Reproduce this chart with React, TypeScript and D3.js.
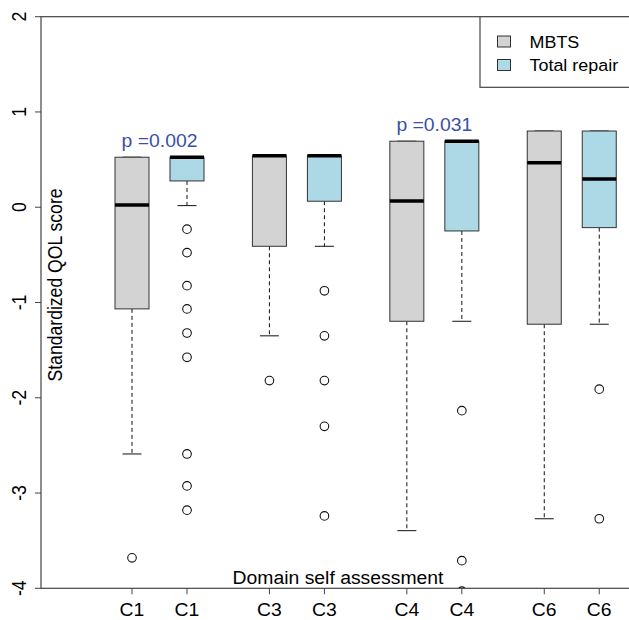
import { useEffect, useRef } from 'react';
import * as d3 from 'd3';

// domains and groups
const domains = ['C1', 'C3', 'C4', 'C6'];
const groups = ['MBTS', 'Total repair'];
const groupColors = ['#d3d3d3', '#add8e6'];

// MBTS box stats per domain
const mbtsQ3 = [0.525, 0.54, 0.693, 0.8];
const mbtsMedian = [0.024, 0.54, 0.066, 0.468];
const mbtsQ1 = [-1.067, -0.41, -1.197, -1.228];
const mbtsLow = [-2.59, -1.35, -3.395, -3.27];
const mbtsHigh = [0.525, 0.54, 0.693, 0.8];
const mbtsOutliers = [[-3.68], [-1.82], [], []];

// Total repair box stats per domain
const repairQ3 = [0.525, 0.54, 0.693, 0.8];
const repairMedian = [0.525, 0.54, 0.693, 0.297];
const repairQ1 = [0.276, 0.063, -0.249, -0.214];
const repairLow = [0.017, -0.41, -1.197, -1.228];
const repairHigh = [0.525, 0.54, 0.693, 0.8];
const repairOutliers = [
  [-0.23, -0.477, -0.823, -1.067, -1.32, -1.575, -2.59, -2.925, -3.18],
  [-0.877, -1.35, -1.82, -2.3, -3.24],
  [-2.135, -3.71, -4.03],
  [-1.91, -3.27],
];

const pLabels = ['p =0.002', '', 'p =0.031', ''];
const yTicks = [2, 1, 0, -1, -2, -3, -4];

const App = () => {
  const svgRef = useRef<SVGSVGElement>(null);

  useEffect(() => {
    const svg = d3.select(svgRef.current);
    svg.selectAll('*').remove();

    const W = 629;
    const H = 620;
    const left = 41;
    const top = 16.7;
    const bottom = 588.3;
    const right = 660;
    const sx = 1.1; // the original picture is stretched sideways
    const font = 'Liberation Sans, Arial, sans-serif';
    const axisColor = '#444';

    svg.attr('width', W).attr('height', H).style('background', '#fff');

    const y = d3.scaleLinear().domain([-4, 2]).range([bottom, top]);
    const xDomain = d3.scalePoint<string>().domain(domains).range([159.5, 571.75]);
    const xGroup = d3.scalePoint<string>().domain(groups).range([-27.5, 27.5]);

    svg
      .append('defs')
      .append('clipPath')
      .attr('id', 'plotClip')
      .append('rect')
      .attr('x', left)
      .attr('y', top)
      .attr('width', right - left)
      .attr('height', bottom - top);

    const boxes = domains.flatMap((dom, i) => [
      { dom, g: 0, q3: mbtsQ3[i], med: mbtsMedian[i], q1: mbtsQ1[i], lo: mbtsLow[i], hi: mbtsHigh[i], out: mbtsOutliers[i] },
      { dom, g: 1, q3: repairQ3[i], med: repairMedian[i], q1: repairQ1[i], lo: repairLow[i], hi: repairHigh[i], out: repairOutliers[i] },
    ]);

    const plot = svg.append('g').attr('clip-path', 'url(#plotClip)');
    const half = 17;
    const cap = 9.5;

    boxes.forEach((b) => {
      const cx = xDomain(b.dom)! + xGroup(groups[b.g])!;
      // whiskers
      plot.append('line')
        .attr('x1', cx).attr('x2', cx)
        .attr('y1', y(b.q1)).attr('y2', y(b.lo))
        .attr('stroke', '#111').attr('stroke-dasharray', '4,3');
      plot.append('line')
        .attr('x1', cx).attr('x2', cx)
        .attr('y1', y(b.q3)).attr('y2', y(b.hi))
        .attr('stroke', '#111').attr('stroke-dasharray', '4,3');
      plot.append('line')
        .attr('x1', cx - cap).attr('x2', cx + cap)
        .attr('y1', y(b.lo)).attr('y2', y(b.lo))
        .attr('stroke', '#111');
      plot.append('line')
        .attr('x1', cx - cap).attr('x2', cx + cap)
        .attr('y1', y(b.hi)).attr('y2', y(b.hi))
        .attr('stroke', '#111');
      // box
      plot.append('rect')
        .attr('x', cx - half)
        .attr('y', y(b.q3))
        .attr('width', half * 2)
        .attr('height', y(b.q1) - y(b.q3))
        .attr('fill', groupColors[b.g])
        .attr('stroke', '#333')
        .attr('stroke-width', 1);
      // median
      plot.append('line')
        .attr('x1', cx - half).attr('x2', cx + half)
        .attr('y1', y(b.med)).attr('y2', y(b.med))
        .attr('stroke', '#000').attr('stroke-width', 3.5);
      // outliers
      plot.selectAll(null)
        .data(b.out)
        .enter()
        .append('circle')
        .attr('cx', cx)
        .attr('cy', (d) => y(d))
        .attr('r', 4.3)
        .attr('fill', 'none')
        .attr('stroke', '#111')
        .attr('stroke-width', 1.1);
    });

    // frame
    svg.append('rect')
      .attr('x', left).attr('y', top)
      .attr('width', right - left).attr('height', bottom - top)
      .attr('fill', 'none').attr('stroke', axisColor).attr('stroke-width', 1.2);

    // y axis ticks + labels
    yTicks.forEach((t) => {
      svg.append('line')
        .attr('x1', left - 6).attr('x2', left)
        .attr('y1', y(t)).attr('y2', y(t))
        .attr('stroke', axisColor);
      svg.append('text')
        .attr('transform', `translate(26,${y(t)}) scale(${sx},1) rotate(-90)`)
        .attr('text-anchor', 'middle')
        .style('font-family', font)
        .style('font-size', '17.6px')
        .text(String(t));
    });

    // x axis ticks + labels
    boxes.forEach((b) => {
      const cx = xDomain(b.dom)! + xGroup(groups[b.g])!;
      svg.append('line')
        .attr('x1', cx).attr('x2', cx)
        .attr('y1', bottom).attr('y2', bottom + 6)
        .attr('stroke', axisColor);
      svg.append('text')
        .attr('transform', `translate(${cx},616) scale(${sx},1)`)
        .attr('text-anchor', 'middle')
        .style('font-family', font)
        .style('font-size', '17.6px')
        .text(b.dom);
    });

    // axis titles
    svg.append('text')
      .attr('transform', `translate(338,584) scale(${sx},1)`)
      .attr('text-anchor', 'middle')
      .style('font-family', font)
      .style('font-size', '17.6px')
      .text('Domain self assessment');

    svg.append('text')
      .attr('transform', `translate(62,285) scale(${sx},1) rotate(-90)`)
      .attr('text-anchor', 'middle')
      .style('font-family', font)
      .style('font-size', '17.6px')
      .text('Standardized QOL score');

    // p-value labels
    domains.forEach((dom, i) => {
      if (!pLabels[i]) return;
      const topVal = Math.max(mbtsQ3[i], repairQ3[i]);
      svg.append('text')
        .attr('transform', `translate(${xDomain(dom)},${y(topVal) - 10}) scale(${sx},1)`)
        .attr('text-anchor', 'middle')
        .style('font-family', font)
        .style('font-size', '17.6px')
        .attr('fill', '#3b4fa8')
        .text(pLabels[i]);
    });

    // legend
    const legend = svg.append('g');
    legend.append('rect')
      .attr('x', 480).attr('y', top)
      .attr('width', 200).attr('height', 87.3 - top)
      .attr('fill', '#fff').attr('stroke', axisColor).attr('stroke-width', 1.2);
    groups.forEach((g, i) => {
      legend.append('rect')
        .attr('x', 497.5).attr('y', 36 + i * 23.5)
        .attr('width', 13).attr('height', 11)
        .attr('fill', groupColors[i])
        .attr('stroke', '#333');
      legend.append('text')
        .attr('transform', `translate(529.5,${47.7 + i * 23.5}) scale(${sx},1)`)
        .style('font-family', font)
        .style('font-size', '16.3px')
        .text(g);
    });
  }, []);

  return <svg ref={svgRef} style={{ position: 'absolute', left: 0, top: 0 }}></svg>;
};

export default App;
